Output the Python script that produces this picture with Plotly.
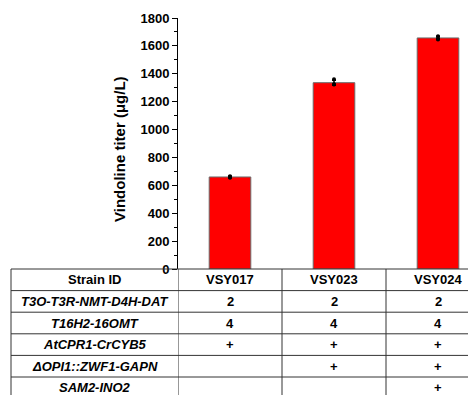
import plotly.graph_objects as go

# ---- data ----
strains = ["VSY017", "VSY023", "VSY024"]
titer_mean = [660, 1336, 1657]
titer_sd = [5, 18, 12]
replicates = [[665, 660, 655], [1360, 1325, 1323], [1670, 1655, 1646]]

row_labels = ["Strain ID", "T3O-T3R-NMT-D4H-DAT", "T16H2-16OMT",
              "AtCPR1-CrCYB5", "ΔOPI1::ZWF1-GAPN", "SAM2-INO2"]
row_values = [
    strains,
    ["2", "2", "2"],
    ["4", "4", "4"],
    ["+", "+", "+"],
    ["", "+", "+"],
    ["", "", "+"],
]

y_ticks = list(range(0, 1801, 200))

FONT = "Arial, Liberation Sans, sans-serif"
OFF = 8  # page body margin
W, H = 476 - OFF, 395 - OFF
ML, MT = 178 - OFF, 18 - OFF
plot_h = 251
MB = H - MT - plot_h
plot_w = W - ML
px_per_cat = 104.0
row_h = 21.6
table_left_px = 11 - OFF

fig = go.Figure()
x_idx = list(range(len(strains)))
fig.add_trace(go.Bar(
    x=x_idx, y=titer_mean, width=0.4,
    marker=dict(color="#FF0000", line=dict(color="#6b6b6b", width=1)),
    error_y=dict(type="data", array=titer_sd, color="black", thickness=1.5, width=2),
    showlegend=False,
))
dx, dy = [], []
for i, reps in enumerate(replicates):
    for v in reps:
        dx.append(i)
        dy.append(v)
fig.add_trace(go.Scatter(x=dx, y=dy, mode="markers",
                         marker=dict(color="black", size=4), showlegend=False))

x_lo = -0.5
x_hi = x_lo + plot_w / px_per_cat

def py(px):
    # pixel y (from top of figure) -> paper y
    return (H - MB - px) / plot_h

def pxx(px):
    return (px - ML) / plot_w

shapes = []
line = dict(color="#333333", width=1)
n_rows = len(row_labels)
base = H - MB
for k in range(n_rows + 1):
    yy = py(base + k * row_h)
    shapes.append(dict(type="line", xref="paper", yref="paper",
                       x0=pxx(table_left_px), x1=1.05, y0=yy, y1=yy, line=line))
y_top = py(base)
y_bot = py(base + n_rows * row_h)
shapes.append(dict(type="line", xref="paper", yref="paper",
                   x0=pxx(table_left_px), x1=pxx(table_left_px), y0=y_top, y1=y_bot, line=line))
for b in [-0.5, 0.5, 1.5, 2.5]:
    shapes.append(dict(type="line", xref="x", yref="paper",
                       x0=b, x1=b, y0=y_top, y1=y_bot, line=line))

annotations = []
label_cx = pxx((table_left_px + ML) / 2)
for k, lab in enumerate(row_labels):
    yc = py(base + (k + 0.5) * row_h)
    txt = f"<b>{lab}</b>" if k == 0 else f"<b><i>{lab}</i></b>"
    annotations.append(dict(text=txt, xref="paper", yref="paper", x=label_cx, y=yc,
                            showarrow=False, xanchor="center", yanchor="middle",
                            font=dict(family=FONT, size=13, color="black")))
    for i, v in enumerate(row_values[k]):
        if v:
            annotations.append(dict(text=f"<b>{v}</b>", xref="x", yref="paper", x=i, y=yc,
                                    showarrow=False, xanchor="center", yanchor="middle",
                                    font=dict(family=FONT, size=13, color="black")))
annotations.append(dict(text="<b>Vindoline titer (μg/L)</b>", xref="paper", yref="paper",
                        x=pxx(119 - OFF), y=py(149 - OFF), textangle=-90, showarrow=False,
                        xanchor="center", yanchor="middle",
                        font=dict(family=FONT, size=15, color="black")))

fig.update_layout(
    width=W, height=H,
    margin=dict(l=ML, r=0, t=MT, b=MB, pad=0),
    paper_bgcolor="white", plot_bgcolor="white",
    shapes=shapes, annotations=annotations,
    xaxis=dict(range=[x_lo, x_hi], showticklabels=False, ticks="", showline=False,
               showgrid=False, zeroline=False, fixedrange=True),
    yaxis=dict(range=[0, 1800], tickvals=y_ticks, ticktext=[f"<b>{t}</b>" for t in y_ticks],
               ticks="outside", ticklen=5, tickwidth=1, tickcolor="black",
               showline=True, linecolor="black", linewidth=1,
               showgrid=False, zeroline=False,
               tickfont=dict(family=FONT, size=13, color="black"),
               minor=dict(dtick=100, ticks="outside", ticklen=3, tickcolor="black", showgrid=False)),
    font=dict(family=FONT, color="black"),
)

fig.write_html("out.html")
